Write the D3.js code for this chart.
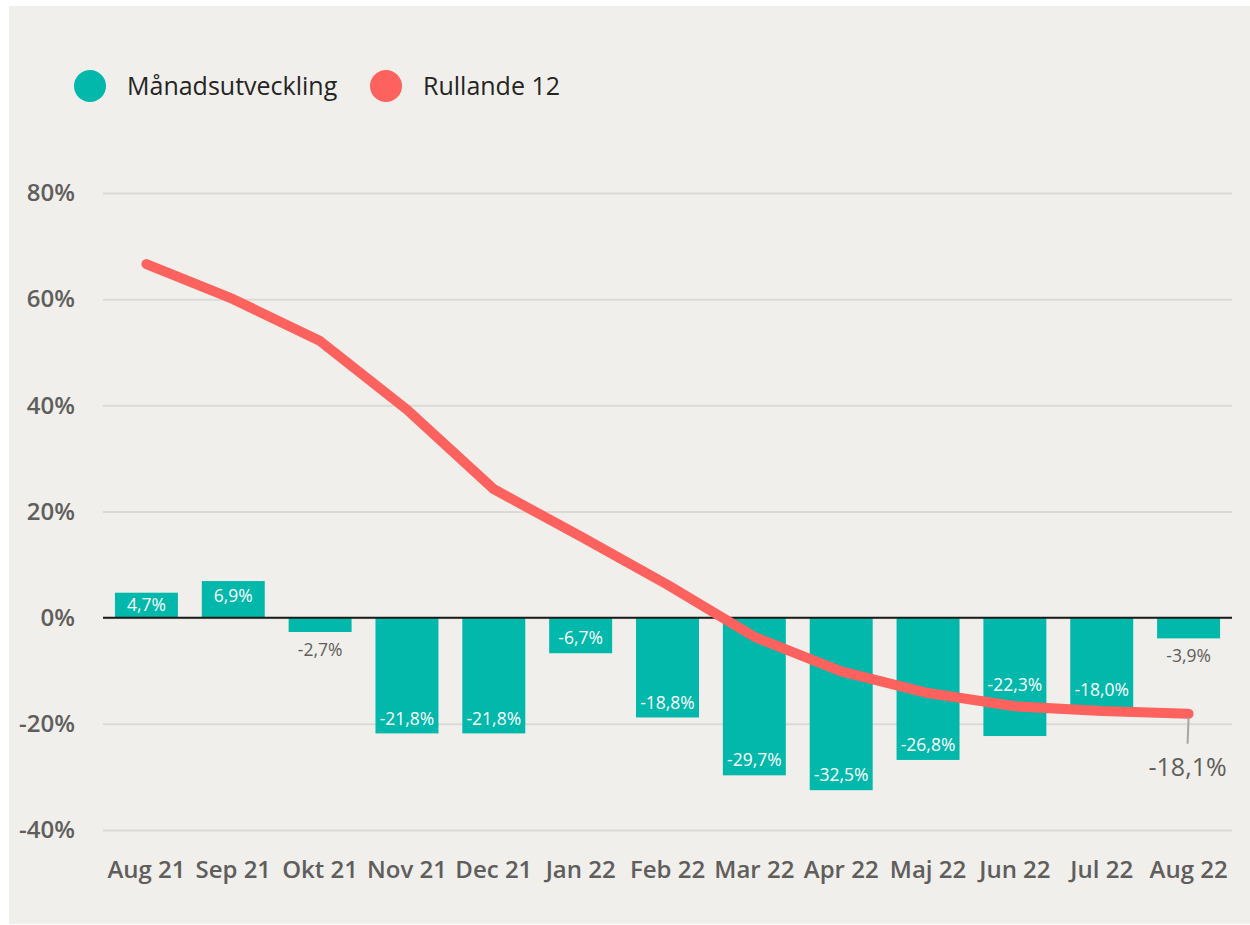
<!DOCTYPE html>
<html>
<head>
<meta charset="utf-8">
<script src="https://cdn.jsdelivr.net/npm/d3@7"></script>
<style>
  body { margin: 0; background: #fff; }
  text { font-family: "Open Sans", "Noto Sans", sans-serif; }
</style>
</head>
<body>
<div class="chart"></div>
<script>
var svgWidth = 1250;
var svgHeight = 925;

// chart data
var months = ["Aug 21", "Sep 21", "Okt 21", "Nov 21", "Dec 21", "Jan 22", "Feb 22",
  "Mar 22", "Apr 22", "Maj 22", "Jun 22", "Jul 22", "Aug 22"];
var monthly = [4.7, 6.9, -2.7, -21.8, -21.8, -6.7, -18.8, -29.7, -32.5, -26.8, -22.3, -18.0, -3.9];
var rolling12 = [66.6, 60.0, 52.1, 39.2, 24.2, 15.3, 6.2, -3.6, -10.1, -14.2, -16.7, -17.6, -18.1];
var yTicks = [-40, -20, 0, 20, 40, 60, 80];
var seriesNames = ["Månadsutveckling", "Rullande 12"];

var green = "#01b8aa";
var red = "#fd625e";
var grey = "#605e5c";

var fmt = function(v) { return v.toFixed(1).replace(".", ",") + "%"; };

var svg = d3.select(".chart")
  .append("svg")
  .attr("width", svgWidth)
  .attr("height", svgHeight);

// background panel
svg.append("rect")
  .attr("x", 9).attr("y", 6)
  .attr("width", 1241).attr("height", 918)
  .attr("fill", "#f0efeb");

var x = d3.scaleBand()
  .domain(months)
  .range([103, 1232])
  .paddingInner(0.275)
  .paddingOuter(0.1375);

var y = d3.scaleLinear()
  .domain([-40, 80])
  .range([830, 193]);

// gridlines + y labels
var leftAxis = d3.axisLeft(y)
  .tickValues(yTicks)
  .tickSize(-(1232 - 103))
  .tickPadding(28)
  .tickFormat(function(d) { return d + "%"; });

var yAxis = svg.append("g")
  .attr("transform", "translate(103,0)")
  .call(leftAxis);
yAxis.select(".domain").remove();
yAxis.selectAll(".tick line")
  .attr("stroke", "#dcdad6")
  .attr("stroke-width", 2);
yAxis.selectAll(".tick text")
  .attr("fill", grey)
  .attr("font-size", "24px")
  .attr("font-weight", 600);

// x labels
var bottomAxis = d3.axisBottom(x).tickSize(0).tickPadding(0);
var xAxis = svg.append("g")
  .attr("transform", "translate(0,861)")
  .call(bottomAxis);
xAxis.select(".domain").remove();
xAxis.selectAll(".tick text")
  .attr("fill", grey)
  .attr("font-size", "24px")
  .attr("font-weight", 600)
  .attr("dy", "0.71em");

// bars
svg.selectAll("rect.bar")
  .data(monthly)
  .enter()
  .append("rect")
  .attr("class", "bar")
  .attr("x", function(d, i) { return x(months[i]); })
  .attr("y", function(d) { return y(Math.max(0, d)); })
  .attr("width", x.bandwidth())
  .attr("height", function(d) { return Math.abs(y(d) - y(0)); })
  .attr("fill", green);

// zero line
svg.append("line")
  .attr("x1", 103).attr("x2", 1232)
  .attr("y1", y(0)).attr("y2", y(0))
  .attr("stroke", "#1a1a1a")
  .attr("stroke-width", 2);

// bar labels
svg.selectAll("text.barlabel")
  .data(monthly)
  .enter()
  .append("text")
  .attr("class", "barlabel")
  .attr("x", function(d, i) { return x(months[i]) + x.bandwidth() / 2; })
  .attr("y", function(d, i) {
    var h = Math.abs(y(d) - y(0));
    if (d >= 0) return y(d) + Math.min(15, h / 2);
    if (h < 30) return y(d) + 18;
    var cy = y(d) - 15;
    var ly = y(rolling12[i]);
    // move the label above the line when they would collide
    if (Math.abs(cy - ly) < 15) cy = ly - 21;
    return cy;
  })
  .attr("dy", "0.35em")
  .attr("text-anchor", "middle")
  .attr("font-size", "17.5px")
  .attr("fill", function(d) { return Math.abs(y(d) - y(0)) < 30 && d < 0 ? grey : "#fff"; })
  .text(fmt);

// rolling 12 line
var line = d3.line()
  .x(function(d, i) { return x(months[i]) + x.bandwidth() / 2; })
  .y(function(d) { return y(d); });

svg.append("path")
  .datum(rolling12)
  .attr("d", line)
  .attr("fill", "none")
  .attr("stroke", red)
  .attr("stroke-width", 10)
  .attr("stroke-linecap", "round")
  .attr("stroke-linejoin", "round");

// end label with leader
var last = rolling12.length - 1;
var lx = x(months[last]) + x.bandwidth() / 2;
svg.append("line")
  .attr("x1", lx).attr("x2", lx - 1)
  .attr("y1", y(rolling12[last]) + 4)
  .attr("y2", y(rolling12[last]) + 30)
  .attr("stroke", "#a6a6a6")
  .attr("stroke-width", 2);
svg.append("text")
  .attr("x", lx - 1)
  .attr("y", y(rolling12[last]) + 54)
  .attr("dy", "0.35em")
  .attr("text-anchor", "middle")
  .attr("font-size", "25px")
  .attr("fill", grey)
  .text(fmt(rolling12[last]));

// legend
var legendX = [90, 386];
var legend = svg.selectAll("g.legend")
  .data(seriesNames)
  .enter()
  .append("g")
  .attr("class", "legend")
  .attr("transform", function(d, i) { return "translate(" + legendX[i] + ",86)"; });
legend.append("circle")
  .attr("r", 16)
  .attr("fill", function(d, i) { return i === 0 ? green : red; });
legend.append("text")
  .attr("x", 37)
  .attr("dy", "0.35em")
  .attr("font-size", "25px")
  .attr("fill", "#252423")
  .text(function(d) { return d; });
</script>
</body>
</html>
